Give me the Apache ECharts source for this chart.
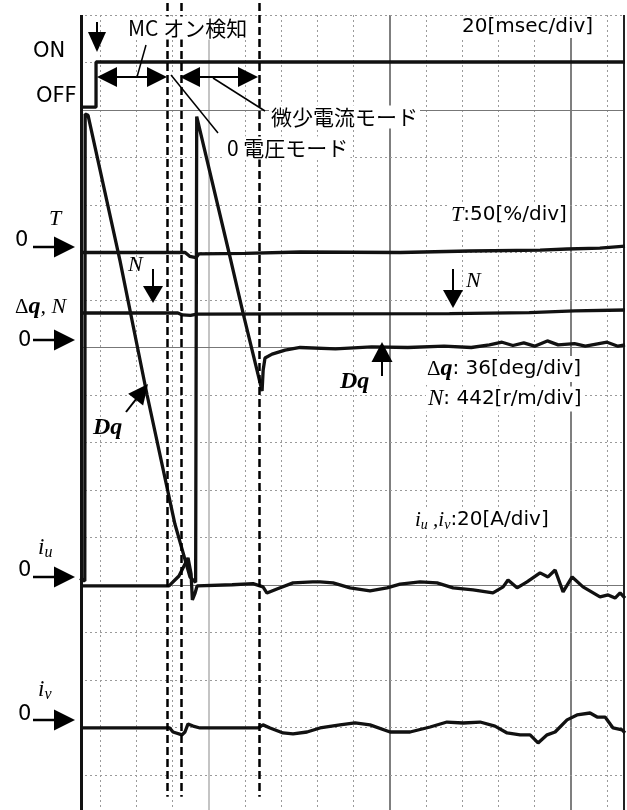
<!DOCTYPE html>
<html>
<head>
<meta charset="utf-8">
<script src="https://cdn.jsdelivr.net/npm/echarts@6/dist/echarts.min.js"></script>
<style>
  html, body { margin: 0; padding: 0; background: #fff; }
  #chart { width: 627px; height: 810px; }
</style>
</head>
<body>
<div id="chart"></div>
<script>
// time in ms (0 = first grid line), vertical position in divisions from the top grid line
const gridTimes = [0, 20, 40, 60, 80, 100, 120, 140, 160, 180, 200, 220, 240, 260, 280];
const majorTimes = [60, 160, 260];
const gridLevels = [0, 1, 2, 3, 4, 5, 6, 7, 8, 9, 10, 11, 12, 13, 14, 15, 16];
const majorLevels = [2, 7, 12];
const cursorTimes = [37.0, 44.7, 87.8];

// channel scales (per div) and zero levels (div from top)
const T_DIV = 50;     // %/div
const DQ_DIV = 36;    // deg/div
const N_DIV = 442;    // r/min/div
const I_DIV = 20;     // A/div

// MC on signal (0 = OFF, 1 = ON)
const mcTime = [-11.05, -2.2, -2.2, 289.9];
const mcState = [0, 0, 1, 1];

// torque T [%]
const tTime = [-11.05, 47, 49.5, 53, 54.5, 80, 110.5, 165.7, 204, 243, 257.9, 276, 289.9];
const tVal = [0, 0, -4, -5.5, -1.5, -1, 0.5, 0, 1.6, 2.6, 3.7, 4.7, 6.8];

// speed N [r/min]
const nTime = [-11.05, 43, 45.5, 50, 53.5, 110.5, 193, 237, 262, 289.9];
const nVal = [321, 321, 303, 298, 310, 312, 316, 324, 340, 349];

// phase error dq [deg]
const dqTime = [-11.05, -8.4, -8.2, -6.6, 11.0, 26.0, 41.4, 49.7, 52.8, 53.4, 71.2, 79.0, 89.5,
  90.1, 91.1, 95.0, 102.2, 110.5, 130, 150, 170, 190, 205, 215, 222, 228, 234, 240, 247, 253, 262, 268, 280, 286, 289.9];
const dqVal = [-175, -177, 177, 176, 66, -36, -134, -174, -178, 175, 72, 26, -33,
  -17, -8, -5, -2, 0, -1, 0.5, 0, 1, 0, 2, 4, 1.5, 3.5, 1, 5, 2, 3, 1, 4, 1, 2];

// phase current iu [A]
const iuTime = [-11.05, 38.1, 43.6, 48.6, 50.3, 51.0, 52.5, 53.6, 73, 84.5, 90, 92.2, 97.7, 106.6, 117.5,
  121.5, 128.7, 138.1, 149.1, 158.5, 165.7, 176.7, 186.1, 195.0, 206.0, 217.0, 222.6, 225.3, 230.3,
  235.8, 243.0, 247.4, 251.3, 255.7, 260.7, 266.7, 276.1, 280.6, 284.4, 287.2, 289.9];
const iuVal = [0, 0, 4.2, 11.8, 5, -5.9, -3, 0, 0.5, 1, -0.4, -3, -1.3, 1.3, 1.7,
  1.7, 1.3, -0.8, -2.1, -0.8, 0.8, 1.7, 1.3, -0.8, -1.7, -2.9, -0.4, 2.5, -0.8,
  1.7, 5.5, 3.8, 6.7, -2.5, 3.8, -0.4, -4.6, -3.8, -5.1, -2.9, -5.1];

// phase current iv [A]
const ivTime = [-11.05, 38.5, 40.3, 45.3, 46.9, 48.6, 51.4, 55.2, 87.3, 90.0, 93.9, 101.1, 106.6, 114.3,
  121.5, 132.5, 140.8, 149.1, 160.2, 171.2, 182.3, 191.6, 200.5, 209.9, 218.1, 224.8, 232.0, 237.5,
  241.9, 246.9, 251.3, 257.9, 263.4, 270.6, 274.5, 278.9, 283.3, 288.3, 289.9];
const ivVal = [0, 0, -1.7, -2.9, -1.7, 1.7, 0.8, 0, 0, 1.3, 0, -2.1, -2.5, -1.7,
  0, 1.3, 2.1, 1.3, -1.7, -1.7, 0.4, 2.5, 2.1, 2.5, 0.8, -2.1, -2.9, -2.9,
  -6.3, -2.9, -1.7, 3.4, 5.5, 6.3, 4.6, 4.6, 0, -0.8, -2.1];

const X_MIN = -11.05, X_MAX = 289.9;
const Y_MIN = -0.2526, Y_MAX = 16.737;
const MC_OFF = 1.94, MC_ON_DIV = 0.95;
const T_ZERO = 5, DQ_ZERO = 7, IU_ZERO = 12.02, IV_ZERO = 15.01;

const SANS = '"DejaVu Sans", "Noto Sans CJK JP", sans-serif';
const JP = '"Noto Sans CJK JP", "DejaVu Sans", sans-serif';
const SERIF = '"Liberation Serif", "DejaVu Serif", serif';

function trace(ts, vs, zero, perDiv) {
  return ts.map((t, i) => [t, zero - vs[i] / perDiv]);
}

function traceSeries(name, data) {
  return {
    name: name, type: 'line', data: data, symbol: 'none', silent: true, z: 3,
    lineStyle: { color: '#111', width: 3.3 }, animation: false
  };
}

// grid lines
const dotted = { color: '#9a9a9a', width: 1, type: [2, 3] };
const gridLines = [];
gridTimes.forEach(t => {
  const major = majorTimes.includes(t);
  let style = dotted;
  if (major) style = { color: t === 60 ? '#b0b0b0' : '#555', width: 1.5, type: 'solid' };
  gridLines.push([{ coord: [t, 0], lineStyle: style }, { coord: [t, Y_MAX] }]);
});
gridLevels.forEach(l => {
  const style = majorLevels.includes(l) ? { color: '#777', width: 1, type: 'solid' } : dotted;
  gridLines.push([{ coord: [X_MIN, l], lineStyle: style }, { coord: [X_MAX, l] }]);
});
// frame
gridLines.push([{ coord: [-10.5, 0], lineStyle: { color: '#111', width: 3, type: 'solid' } }, { coord: [-10.5, Y_MAX] }]);
gridLines.push([{ coord: [289.4, 0], lineStyle: { color: '#222', width: 2, type: 'solid' } }, { coord: [289.4, Y_MAX] }]);

const cursorLines = cursorTimes.map(t => [{ coord: [t, Y_MIN] }, { coord: [t, 16.46] }]);

// annotation helpers (pixel coordinates)
function seg(x1, y1, x2, y2, w) {
  return { type: 'line', z: 20, silent: true, shape: { x1, y1, x2, y2 }, style: { stroke: '#000', lineWidth: w || 2 } };
}
function head(x1, y1, x2, y2, len, half) {
  const dx = x2 - x1, dy = y2 - y1, d = Math.hypot(dx, dy);
  const ux = dx / d, uy = dy / d;
  const bx = x2 - ux * len, by = y2 - uy * len;
  return {
    type: 'polygon', z: 20, silent: true,
    shape: { points: [[x2, y2], [bx - uy * half, by + ux * half], [bx + uy * half, by - ux * half]] },
    style: { fill: '#000' }
  };
}
function arrow(x1, y1, x2, y2, len, half, w) {
  const dx = x2 - x1, dy = y2 - y1, d = Math.hypot(dx, dy);
  const ex = x2 - dx / d * (len - 2), ey = y2 - dy / d * (len - 2);
  return [seg(x1, y1, ex, ey, w), head(x1, y1, x2, y2, len, half)];
}
function dblArrow(x1, x2, y) {
  return [seg(x1 + 10, y, x2 - 10, y, 2), head(x2, y, x1, y, 20, 10), head(x1, y, x2, y, 20, 10)];
}
function txt(x, y, text, font, extra) {
  return Object.assign({
    type: 'text', z: 30, silent: true,
    style: Object.assign({ x, y, text, fill: '#000', verticalAlign: 'middle', align: 'left' }, font)
  }, extra || {});
}
const boxed = { backgroundColor: '#fff', padding: [1, 2] };
const subRich = {
  i: { fontFamily: SERIF, fontSize: 23, fontStyle: 'italic', lineHeight: 26, verticalAlign: 'middle' },
  b: { fontFamily: SERIF, fontSize: 16, fontStyle: 'italic', lineHeight: 17, verticalAlign: 'bottom' }
};

const graphics = [].concat(
  // top
  arrow(97, 22, 97, 52, 20, 9, 2),
  dblArrow(97, 167, 77),
  dblArrow(180, 258, 77),
  [seg(146, 45, 137, 77, 1.5), seg(171, 75, 218, 133, 1.5), seg(213, 78, 265, 111, 1.5)],
  // zero markers
  arrow(33, 247, 75, 247, 21, 10.5, 2.5),
  arrow(33, 340, 75, 340, 21, 10.5, 2.5),
  arrow(33, 577, 75, 577, 21, 10.5, 2.5),
  arrow(33, 720, 75, 720, 21, 10.5, 2.5),
  // trace pointers
  arrow(153, 269, 153, 303, 17, 10, 2),
  arrow(453, 269, 453, 308, 18, 10, 2),
  arrow(382, 376, 382, 342, 20, 10.5, 2),
  arrow(126, 412, 148, 384, 20, 9.5, 2),
  [
    txt(33, 52, 'ON', { fontFamily: SANS, fontSize: 21 }),
    txt(36, 97, 'OFF', { fontFamily: SANS, fontSize: 21 }),
    txt(126, 28, 'MC オン検知', Object.assign({ fontFamily: JP, fontSize: 21 }, boxed)),
    txt(460, 27, '20[msec/div]', Object.assign({ fontFamily: SANS, fontSize: 20 }, boxed)),
    txt(269, 117, '微少電流モード', Object.assign({ fontFamily: JP, fontSize: 21 }, boxed)),
    txt(225, 148, '0 電圧モード', Object.assign({ fontFamily: JP, fontSize: 21 }, boxed)),
    txt(49, 219, 'T', { fontFamily: SERIF, fontSize: 22, fontStyle: 'italic' }),
    txt(15, 241, '0', { fontFamily: SANS, fontSize: 21 }),
    txt(128, 265, 'N', { fontFamily: SERIF, fontSize: 22, fontStyle: 'italic' }),
    txt(15, 307, '{d|Δ}{q|q}{n|, N}', {
      rich: {
        d: { fontFamily: SERIF, fontSize: 21 },
        q: { fontFamily: SERIF, fontSize: 24, fontStyle: 'italic', fontWeight: 'bold' },
        n: { fontFamily: SERIF, fontSize: 22, fontStyle: 'italic' }
      }
    }),
    txt(18, 341, '0', { fontFamily: SANS, fontSize: 21 }),
    txt(93, 428, 'Dq', { fontFamily: SERIF, fontSize: 24, fontStyle: 'italic', fontWeight: 'bold' }),
    txt(449, 215, '{t|T}{s|:50[%/div]}', Object.assign({
      rich: {
        t: { fontFamily: SERIF, fontSize: 22, fontStyle: 'italic' },
        s: { fontFamily: SANS, fontSize: 20 }
      }
    }, boxed)),
    txt(466, 281, 'N', { fontFamily: SERIF, fontSize: 22, fontStyle: 'italic' }),
    txt(340, 382, 'Dq', { fontFamily: SERIF, fontSize: 24, fontStyle: 'italic', fontWeight: 'bold' }),
    txt(425, 369, '{d|Δ}{q|q}{s|: 36[deg/div]}', Object.assign({
      rich: {
        d: { fontFamily: SERIF, fontSize: 21 },
        q: { fontFamily: SERIF, fontSize: 24, fontStyle: 'italic', fontWeight: 'bold' },
        s: { fontFamily: SANS, fontSize: 20 }
      }
    }, boxed)),
    txt(426, 399, '{n|N}{s|: 442[r/m/div]}', Object.assign({
      rich: {
        n: { fontFamily: SERIF, fontSize: 23, fontStyle: 'italic' },
        s: { fontFamily: SANS, fontSize: 20 }
      }
    }, boxed)),
    txt(413, 520, '{i|i}{b|u}{i| ,i}{b|v}{s|:20[A/div]}', Object.assign({
      rich: {
        i: { fontFamily: SERIF, fontSize: 21, fontStyle: 'italic', lineHeight: 24, verticalAlign: 'middle' },
        b: { fontFamily: SERIF, fontSize: 14, fontStyle: 'italic', lineHeight: 15, verticalAlign: 'bottom' },
        s: { fontFamily: SANS, fontSize: 20, lineHeight: 24, verticalAlign: 'middle' }
      }
    }, boxed)),
    txt(38, 548, '{i|i}{b|u}', { rich: subRich }),
    txt(18, 571, '0', { fontFamily: SANS, fontSize: 21 }),
    txt(38, 690, '{i|i}{b|v}', { rich: subRich }),
    txt(18, 715, '0', { fontFamily: SANS, fontSize: 21 })
  ]
);

const chart = echarts.init(document.getElementById('chart'), null, { renderer: 'canvas' });
chart.setOption({
  animation: false,
  backgroundColor: '#fff',
  grid: { left: 80, right: 2, top: 3, bottom: 0 },
  xAxis: { type: 'value', min: X_MIN, max: X_MAX, show: false },
  yAxis: { type: 'value', inverse: true, min: Y_MIN, max: Y_MAX, show: false },
  series: [
    {
      name: 'grid', type: 'line', data: [], silent: true, z: 1,
      markLine: { silent: true, symbol: 'none', z: 1, animation: false, label: { show: false }, data: gridLines }
    },
    {
      name: 'cursor', type: 'line', data: [], silent: true, z: 4,
      markLine: {
        silent: true, symbol: 'none', z: 4, animation: false, label: { show: false },
        lineStyle: { color: '#000', width: 2.5, type: [8, 4] }, data: cursorLines
      }
    },
    traceSeries('MC', mcTime.map((t, i) => [t, MC_OFF - mcState[i] * MC_ON_DIV])),
    traceSeries('T', trace(tTime, tVal, T_ZERO, T_DIV)),
    traceSeries('N', trace(nTime, nVal, DQ_ZERO, N_DIV)),
    traceSeries('dq', trace(dqTime, dqVal, DQ_ZERO, DQ_DIV)),
    traceSeries('iu', trace(iuTime, iuVal, IU_ZERO, I_DIV)),
    traceSeries('iv', trace(ivTime, ivVal, IV_ZERO, I_DIV))
  ],
  graphic: graphics
});
window.addEventListener('resize', () => chart.resize());
</script>
</body>
</html>
